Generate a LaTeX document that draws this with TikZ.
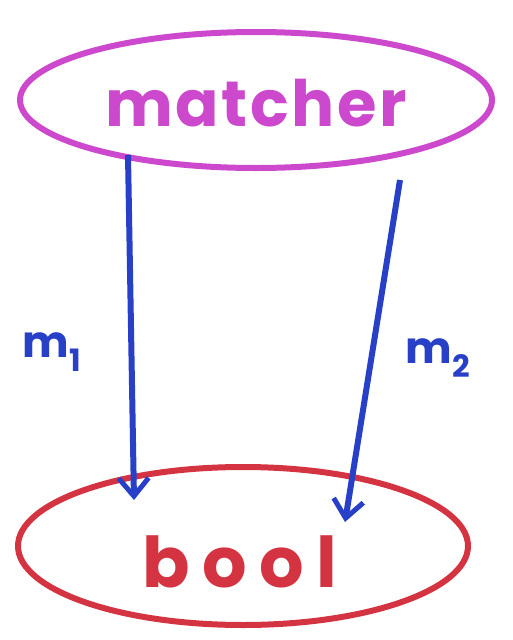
\documentclass[tikz,border=0pt]{standalone}
\usepackage{fontspec}
\setmainfont{Poppins}
\usetikzlibrary{arrows.meta,shapes.geometric}
\definecolor{mag}{RGB}{204,72,204}
\definecolor{redc}{RGB}{212,52,66}
\definecolor{bluec}{RGB}{40,64,200}
\tikzset{
  blob/.style={ellipse, line width=6pt, inner sep=0pt},
  conn/.style={bluec, line width=6pt, -{Straight Barb[length=18pt,width=30pt,line width=5pt]}},
  lbl/.style={bluec, font=\bfseries\fontsize{44}{44}\selectfont}
}
\begin{document}
\begin{tikzpicture}[x=1pt,y=-1pt]
\useasboundingbox (0,0) rectangle (512,640);
\node[blob, draw=mag, minimum width=472pt, minimum height=136pt] (m) at (256,100) {};
\node[mag, font=\bfseries\fontsize{64}{64}\selectfont\addfontfeature{LetterSpace=4}] (mt) at (256,103) {matcher};
\node[blob, draw=redc, minimum width=450pt, minimum height=158pt] (b) at (243,546) {};
\node[redc, font=\bfseries\fontsize{70}{70}\selectfont\addfontfeature{LetterSpace=18}] (bt) at (240,562) {bool};
\coordinate (s1) at (128,155);
\coordinate (e1) at (134,500);
\coordinate (s2) at (400,180);
\coordinate (e2) at (345,522);
\draw[conn] (s1) -- (e1);
\draw[conn] (s2) -- (e2);
\node[lbl] (l1) at (52,352) {m\textsubscript{1}};
\node[lbl] (l2) at (438,358) {m\textsubscript{2}};
\end{tikzpicture}
\end{document}
